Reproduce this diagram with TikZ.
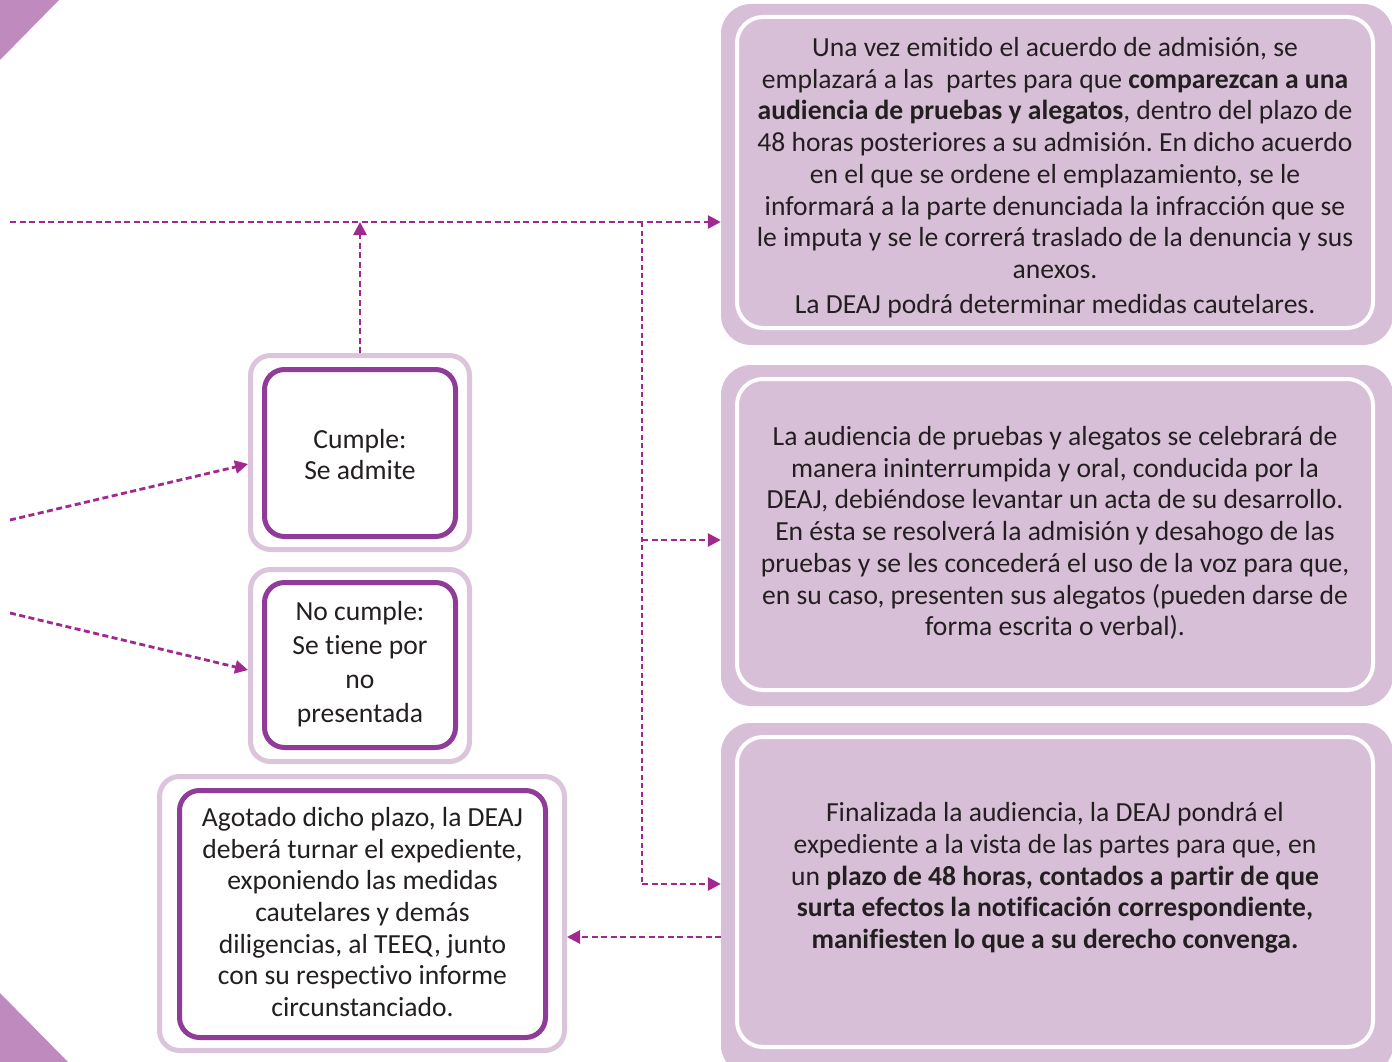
\documentclass[tikz,border=0pt]{standalone}
\usepackage{fontspec}
\setmainfont{Carlito}[Ligatures=NoCommon]
\frenchspacing
\usetikzlibrary{arrows.meta}
\definecolor{thist}{HTML}{D8BFD8}
\definecolor{lightline}{HTML}{DCC4DD}
\definecolor{darkline}{HTML}{8E3C97}
\definecolor{arrowc}{HTML}{A0288F}
\definecolor{cornerc}{HTML}{BF8ABE}
\definecolor{txt}{HTML}{231F20}
\tikzset{
  bigouter/.style={fill=thist, draw=none, rounded corners=30pt, minimum width=672pt, inner sep=0pt},
  biginner/.style={draw=white, line width=4pt, rounded corners=26pt, minimum width=636pt, inner sep=0pt},
  bodytext/.style={align=center, text=txt, inner sep=0pt, font=\fontsize{27.6}{31.7}\selectfont},
  smallouter/.style={draw=lightline, line width=5pt, fill=white, rounded corners=20pt, inner sep=0pt},
  smallinner/.style={draw=darkline, line width=5pt, rounded corners=20pt, inner sep=0pt},
  conn/.style={draw=arrowc, line width=2.8pt, dash pattern=on 6pt off 3.5pt, -{Triangle[length=13pt,width=13pt]}},
  connline/.style={draw=arrowc, line width=2.5pt, dash pattern=on 5pt off 3.5pt},
}
\begin{document}
\begin{tikzpicture}[x=1pt,y=-1pt]
\useasboundingbox (0,0) rectangle (1392,1062);
% corner triangles
\fill[cornerc] (0,0) -- (59,0) -- (0,60) -- cycle;
\fill[cornerc] (0,993) -- (68,1062) -- (0,1062) -- cycle;

% right boxes
\node[bigouter, minimum height=341pt] (b1o) at (1057,174.5) {};
\node[biginner, minimum height=311pt] (b1) at (1055,172.5) {};
\node[bodytext] (b1t) at (1055,177.5) {Una vez emitido el acuerdo de admisión, se\\
emplazará a las\ \ partes para que \textbf{comparezcan a una}\\
\textbf{audiencia de pruebas y alegatos}, dentro del plazo de\\
48 horas posteriores a su admisión. En dicho acuerdo\\
en el que se ordene el emplazamiento, se le\\
informará a la parte denunciada la infracción que se\\
le imputa y se le correrá traslado de la denuncia y sus\\
anexos.\\[3pt]
La DEAJ podrá determinar medidas cautelares.};

\node[bigouter, minimum height=341pt] (b2o) at (1057,535.5) {};
\node[biginner, minimum height=311pt] (b2) at (1055,534.5) {};
\node[bodytext] (b2t) at (1055,533) {La audiencia de pruebas y alegatos se celebrará de\\
manera ininterrumpida y oral, conducida por la\\
DEAJ, debiéndose levantar un acta de su desarrollo.\\
En ésta se resolverá la admisión y desahogo de las\\
pruebas y se les concederá el uso de la voz para que,\\
en su caso, presenten sus alegatos (pueden darse de\\
forma escrita o verbal).};

\node[bigouter, minimum height=352pt] (b3o) at (1057,899) {};
\node[biginner, minimum height=310pt] (b3) at (1055,892) {};
\node[bodytext] (b3t) at (1055,878) {Finalizada la audiencia, la DEAJ pondrá el\\
expediente a la vista de las partes para que, en\\
un \textbf{plazo de 48 horas, contados a partir de que}\\
\textbf{surta efectos la notificación correspondiente,}\\
\textbf{manifiesten lo que a su derecho convenga.}};

% small boxes
\node[smallouter, minimum width=219pt, minimum height=194pt] (c1o) at (360,452.5) {};
\node[smallinner, minimum width=191pt, minimum height=167pt] (c1) at (360,453) {};
\node[bodytext] (c1t) at (360,454.5) {Cumple:\\Se admite};

\node[smallouter, minimum width=219pt, minimum height=192pt] (c2o) at (360,665.5) {};
\node[smallinner, minimum width=191pt, minimum height=165pt] (c2) at (360,665) {};
\node[bodytext, font=\fontsize{27.6}{34}\selectfont] (c2t) at (360,664) {No cumple:\\Se tiene por\\no\\presentada};

\node[smallouter, minimum width=405pt, minimum height=274pt] (ago) at (362,913.5) {};
\node[smallinner, minimum width=366pt, minimum height=247pt] (agi) at (362.5,914) {};
\node[bodytext] (agt) at (362.5,912) {Agotado dicho plazo, la DEAJ\\
deberá turnar el expediente,\\
exponiendo las medidas\\
cautelares y demás\\
diligencias, al TEEQ, junto\\
con su respectivo informe\\
circunstanciado.};

% connectors
\coordinate (start) at (10,222);
\coordinate (junc) at (642,222);
\coordinate (j2) at (642,540);
\coordinate (j3) at (642,884);
\coordinate (s1) at (10,520);
\coordinate (s2) at (10,613);
\draw[conn] (start) -- (start -| b1o.west);
\draw[conn] (c1o.north) -- (c1o.north |- start);
\draw[connline] (junc) -- (j3);
\draw[conn] (j2) -- (j2 -| b2o.west);
\draw[conn] (j3) -- (j3 -| b3o.west);
\coordinate (e3) at (721,937);
\draw[conn] (e3) -- (e3 -| ago.east);
\draw[conn] (s1) -- (c1o.west |- 0,464);
\draw[conn] (s2) -- (c2o.west |- 0,670);
\end{tikzpicture}
\end{document}
